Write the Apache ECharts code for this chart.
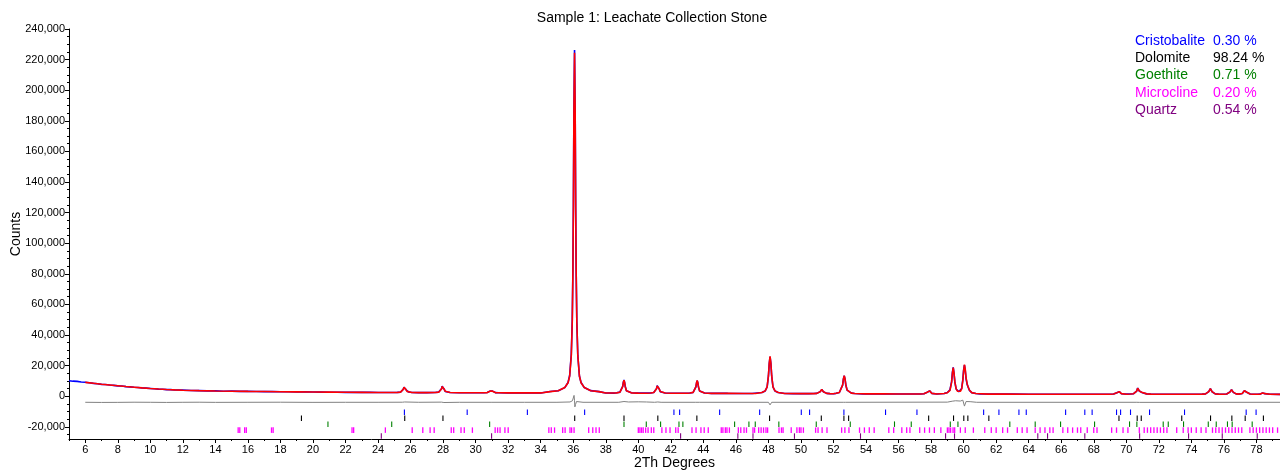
<!DOCTYPE html>
<html>
<head>
<meta charset="utf-8">
<title>Sample 1: Leachate Collection Stone</title>
<script src="https://cdn.jsdelivr.net/npm/echarts@6/dist/echarts.min.js"></script>
<style>
  html, body { margin: 0; padding: 0; background: #ffffff; }
  #chart { width: 1280px; height: 471px; }
</style>
</head>
<body>
<div id="chart"></div>
<script>
// ---- Tick labels ----
const xTickValues = [6, 8, 10, 12, 14, 16, 18, 20, 22, 24, 26, 28, 30, 32, 34, 36, 38, 40, 42, 44, 46, 48, 50, 52, 54, 56, 58, 60, 62, 64, 66, 68, 70, 72, 74, 76, 78];
const xMinorValues = [5, 7, 9, 11, 13, 15, 17, 19, 21, 23, 25, 27, 29, 31, 33, 35, 37, 39, 41, 43, 45, 47, 49, 51, 53, 55, 57, 59, 61, 63, 65, 67, 69, 71, 73, 75, 77, 79];
const yTickValues = [-20000, 0, 20000, 40000, 60000, 80000, 100000, 120000, 140000, 160000, 180000, 200000, 220000, 240000];
const yMinorValues = [-25000, -15000, -10000, -5000, 5000, 10000, 15000, 25000, 30000, 35000, 45000, 50000, 55000, 65000, 70000, 75000, 85000, 90000, 95000, 105000, 110000, 115000, 125000, 130000, 135000, 145000, 150000, 155000, 165000, 170000, 175000, 185000, 190000, 195000, 205000, 210000, 215000, 225000, 230000, 235000];

// ---- Phases (quantification) ----
const phaseNames = ['Cristobalite', 'Dolomite', 'Goethite', 'Microcline', 'Quartz'];
const phaseWeights = [0.30, 98.24, 0.71, 0.20, 0.54];
const phaseColors = ['#0000FF', '#000000', '#008000', '#FF00FF', '#800080'];

// ---- Reflection positions (2Th) for each phase ----
const cristobaliteRefl = [25.62, 29.48, 33.18, 36.70, 42.19, 42.54, 45.00, 47.46, 50.02, 50.53, 52.64, 55.20, 57.13, 61.23, 62.17, 63.40, 63.85, 66.27, 67.45, 67.90, 69.40, 69.65, 70.26, 71.43, 73.58, 77.37, 77.98];
const dolomiteRefl = [19.29, 25.64, 27.99, 36.09, 39.12, 41.20, 43.60, 48.07, 51.25, 52.64, 52.93, 57.85, 59.38, 60.01, 60.26, 61.55, 69.55, 70.67, 70.92, 73.41, 75.18, 76.49, 77.31, 78.43];
const goethiteRefl = [20.92, 24.84, 30.86, 39.12, 40.49, 41.37, 42.50, 42.74, 45.92, 46.80, 47.19, 48.64, 50.94, 53.03, 55.75, 56.78, 59.18, 59.65, 62.84, 64.40, 65.96, 68.05, 70.20, 70.65, 72.27, 72.58, 73.52, 75.04, 75.53, 76.22, 76.51, 77.74];
const microclineRefl = [15.40, 15.50, 15.80, 15.90, 17.45, 17.55, 22.40, 22.50, 24.45, 26.10, 26.75, 27.20, 27.45, 28.50, 28.65, 29.10, 29.30, 29.80,
  31.20, 31.35, 31.50, 31.80, 32.00, 34.50, 34.65, 34.85, 35.35, 35.50, 35.80, 35.90, 36.05, 36.95, 37.20, 37.40, 37.60,
  40.00, 40.10, 40.20, 40.30, 40.45, 40.60, 40.80, 40.95, 41.45, 41.70, 41.95, 42.30, 42.45, 43.30, 43.55, 43.85, 44.05, 44.30,
  45.10, 45.20, 45.35, 45.45, 45.60, 46.15, 46.30, 46.50, 46.65, 47.05, 47.15, 47.40, 47.55, 47.70, 47.85, 47.95, 48.65, 48.80, 48.90,
  49.40, 49.75, 49.90, 50.00, 50.15, 50.90, 51.05, 51.30, 51.60, 52.50, 52.70, 52.95, 53.60, 53.90, 54.20, 54.50, 55.40, 55.70,
  56.20, 56.50, 56.70, 57.30, 57.60, 57.90, 58.20, 58.60, 59.00, 59.10, 59.20, 59.35, 59.45, 59.80, 60.10, 60.60,
  61.30, 61.70, 62.00, 62.40, 62.70, 63.30, 63.60, 63.90, 64.40, 64.70, 65.00, 65.30, 65.50, 66.10, 66.40, 66.70, 67.00, 67.20,
  67.60, 68.00, 68.20, 69.10, 69.40, 69.80, 70.10, 70.80, 71.10, 71.30, 71.50, 71.70, 71.90, 72.10, 72.30, 72.50,
  73.10, 73.50, 73.80, 74.00, 74.30, 74.60, 74.90, 75.30, 75.50, 75.70, 75.90, 76.10, 76.30, 76.50, 76.70, 76.90, 77.10,
  77.60, 77.80, 78.00, 78.20, 78.40, 78.60, 78.80, 79.00, 79.30];
const quartzRefl = [24.20, 30.98, 42.60, 46.12, 47.05, 49.60, 53.66, 58.89, 59.44, 64.56, 65.16, 67.45, 70.82, 73.83, 75.90, 78.05];

// ---- Measured pattern [2Th, counts] ----
const observed = [
  [5.00, 10100], [5.25, 9800], [5.50, 9650], [5.75, 9300], [6.00, 9100], [6.25, 8800], [6.50, 8350], [6.75, 8150],
  [7.00, 7700], [7.25, 7600], [7.50, 7250], [7.75, 7050], [8.00, 6750], [8.25, 6600], [8.50, 6250], [8.75, 6100],
  [9.00, 5800], [9.25, 5700], [9.50, 5350], [9.75, 5250], [10.00, 5050], [10.25, 4800], [10.50, 4600], [10.75, 4500],
  [11.00, 4300], [11.25, 4250], [11.50, 4050], [11.75, 4000], [12.00, 3950], [12.50, 3700], [13.00, 3650], [13.50, 3450],
  [14.00, 3450], [14.50, 3250], [15.00, 3300], [15.50, 3150], [16.00, 3100], [16.50, 3050], [17.00, 2950], [17.50, 3000],
  [18.00, 2850], [18.50, 2900], [19.00, 2750], [19.50, 2800], [20.00, 2700], [20.50, 2650], [21.00, 2600], [21.50, 2600],
  [22.00, 2500], [22.50, 2550], [23.00, 2450], [23.50, 2500], [24.00, 2400], [24.50, 2420], [25.00, 2350],
  [25.18, 2450], [25.38, 2600], [25.48, 3150], [25.55, 4500], [25.59, 5900], [25.63, 6700], [25.67, 5700], [25.71, 4300],
  [25.78, 3100], [25.88, 2700], [26.08, 2400], [26.50, 2330], [27.00, 2320], [27.50, 2350],
  [27.53, 2400], [27.73, 2650], [27.83, 3200], [27.90, 4800], [27.94, 6500], [27.98, 7500], [28.02, 6200], [28.06, 4600],
  [28.13, 3100], [28.23, 2650], [28.43, 2350], [29.00, 2250], [29.50, 2200], [30.00, 2230],
  [30.51, 2220], [30.71, 2350], [30.81, 2600], [30.88, 3300], [30.92, 4000], [30.96, 4300], [31.00, 3900], [31.04, 3300],
  [31.11, 2600], [31.21, 2330], [31.41, 2200], [32.00, 2150], [32.50, 2180], [33.00, 2100], [33.50, 2150], [34.00, 2100],
  [34.58, 3000], [35.08, 3550], [35.48, 5600], [35.68, 8900], [35.78, 13500], [35.88, 27500], [35.94, 50000], [35.98, 84000],
  [36.01, 126000], [36.04, 186000], [36.08, 226200], [36.12, 183000], [36.15, 122000], [36.18, 81000], [36.22, 48500],
  [36.28, 26800], [36.38, 13000], [36.48, 8900], [36.68, 5600], [37.08, 3600], [37.58, 2950], [38.00, 2050], [38.50, 2000],
  [38.67, 2200], [38.87, 2650], [38.97, 3600], [39.04, 6400], [39.08, 9100], [39.12, 10600], [39.16, 8800], [39.20, 6100],
  [39.27, 3500], [39.37, 2600], [39.57, 2200], [40.00, 1980], [40.50, 2000],
  [40.75, 2080], [40.95, 2380], [41.05, 3050], [41.12, 4950], [41.16, 6800], [41.20, 7900], [41.24, 6700], [41.28, 4800],
  [41.35, 2950], [41.45, 2330], [41.65, 2050], [42.00, 1900], [42.50, 1920], [43.00, 1880],
  [43.17, 2050], [43.37, 2450], [43.47, 3350], [43.54, 6000], [43.58, 8600], [43.62, 10100], [43.66, 8600], [43.70, 5900],
  [43.77, 3300], [43.87, 2450], [44.07, 2030], [44.50, 1850], [45.00, 1830], [45.50, 1800], [46.00, 1790], [46.50, 1780], [47.00, 1760],
  [47.60, 2350], [47.80, 3400], [47.92, 6000], [48.00, 13100], [48.05, 21300], [48.10, 25700], [48.15, 21300], [48.20, 13100],
  [48.28, 6000], [48.40, 3400], [48.60, 2350], [49.00, 1700], [49.50, 1680], [50.00, 1650], [50.50, 1640],
  [50.78, 1700], [50.98, 1800], [51.10, 2120], [51.18, 2950], [51.23, 3850], [51.28, 4300], [51.33, 3800], [51.38, 2900],
  [51.46, 2120], [51.58, 1800], [51.78, 1680], [52.00, 1600],
  [52.16, 1850], [52.36, 2400], [52.48, 3700], [52.56, 7250], [52.61, 11300], [52.66, 13300], [52.71, 11100], [52.76, 7100],
  [52.84, 3900], [52.93, 2900], [53.10, 2000], [53.30, 1700], [53.80, 1520], [54.50, 1480], [55.00, 1470], [55.50, 1460],
  [56.00, 1440], [56.50, 1420], [57.00, 1410],
  [57.36, 1460], [57.56, 1580], [57.68, 1850], [57.76, 2600], [57.81, 3450], [57.86, 3900], [57.91, 3450], [57.96, 2600],
  [58.04, 1850], [58.16, 1580], [58.36, 1460],
  [58.80, 1750], [59.00, 2400], [59.16, 4100], [59.26, 9500], [59.31, 15500], [59.36, 18800], [59.41, 14800], [59.46, 9200],
  [59.54, 4700], [59.62, 3400], [59.70, 2900], [59.80, 3300], [59.88, 5000], [59.95, 10800], [60.00, 17200], [60.05, 20300],
  [60.10, 16800], [60.15, 11400], [60.22, 7600], [60.28, 5800], [60.36, 3800], [60.50, 2300], [60.75, 1700],
  [61.00, 1400], [61.50, 1400], [62.00, 1330], [63.00, 1310], [64.00, 1300], [65.00, 1280], [66.00, 1270], [67.00, 1260],
  [68.00, 1260], [68.70, 1250],
  [69.02, 1300], [69.22, 1420], [69.34, 1650], [69.42, 2300], [69.47, 3000], [69.52, 3400], [69.57, 2950], [69.62, 2200],
  [69.70, 1600], [69.82, 1400], [70.02, 1320],
  [70.25, 1400], [70.45, 1620], [70.57, 2000], [70.64, 3350], [70.67, 4400], [70.70, 5300], [70.75, 4450], [70.80, 3350],
  [70.88, 2700], [70.95, 2450], [71.05, 1900], [71.25, 1500], [71.50, 1330], [72.00, 1270], [73.00, 1240],
  [73.30, 1260], [73.41, 1580], [73.52, 1270], [74.20, 1230],
  [74.67, 1320], [74.87, 1480], [74.99, 1900], [75.07, 3000], [75.12, 4300], [75.17, 4950], [75.22, 4200], [75.27, 2900],
  [75.35, 1880], [75.47, 1470], [75.67, 1320], [75.97, 1290],
  [76.17, 1420], [76.29, 1760], [76.37, 2700], [76.42, 3700], [76.47, 4250], [76.52, 3600], [76.57, 2600], [76.65, 1800],
  [76.75, 1500], [76.90, 1350], [77.01, 1450], [77.13, 1730], [77.21, 2620], [77.26, 3520], [77.31, 4050], [77.36, 3480],
  [77.41, 2580], [77.49, 1720], [77.61, 1420], [77.81, 1290],
  [78.05, 1250], [78.23, 1350], [78.33, 1660], [78.38, 2120], [78.43, 2530], [78.48, 2080], [78.53, 1640], [78.63, 1350],
  [78.83, 1250], [79.45, 1200]
];

// ---- Calculated (refined) pattern [2Th, counts] ----
const calculated = [
  [6.0, 9000], [6.5, 8400], [7.0, 7800], [7.5, 7300], [8.0, 6800], [8.5, 6300], [9.0, 5850], [9.5, 5400], [10.0, 5000],
  [10.5, 4650], [11.0, 4350], [11.5, 4100], [12.0, 3900], [13.0, 3600], [14.0, 3400], [15.0, 3250], [16.0, 3100],
  [17.0, 3000], [18.0, 2900], [19.0, 2800], [20.0, 2700], [21.0, 2620], [22.0, 2550], [23.0, 2480], [24.0, 2420], [25.0, 2380],
  [25.18, 2440], [25.38, 2650], [25.48, 3110], [25.55, 4435], [25.59, 5760], [25.63, 6510], [25.67, 5760], [25.71, 4435],
  [25.78, 3110], [25.88, 2650], [26.08, 2440], [26.5, 2330], [27.0, 2300],
  [27.53, 2380], [27.73, 2620], [27.83, 3160], [27.90, 4730], [27.94, 6300], [27.98, 7180], [28.02, 6300], [28.06, 4730],
  [28.13, 3160], [28.23, 2620], [28.43, 2380], [29.0, 2240], [30.0, 2210],
  [30.51, 2230], [30.71, 2340], [30.81, 2580], [30.88, 3265], [30.92, 3950], [30.96, 4340], [31.00, 3950], [31.04, 3265],
  [31.11, 2580], [31.21, 2340], [31.41, 2230], [32.0, 2160], [33.0, 2140], [34.0, 2120],
  [34.58, 2980], [35.08, 3580], [35.48, 5680], [35.68, 8780], [35.78, 13180], [35.88, 26580], [35.94, 48780], [35.98, 82080],
  [36.01, 124380], [36.04, 184480], [36.08, 224480], [36.12, 184480], [36.15, 124380], [36.18, 82080], [36.22, 48780],
  [36.28, 26580], [36.38, 13180], [36.48, 8780], [36.68, 5680], [37.08, 3580], [37.58, 2980], [38.0, 2020],
  [38.67, 2170], [38.87, 2590], [38.97, 3510], [39.04, 6200], [39.08, 8890], [39.12, 10400], [39.16, 8890], [39.20, 6200],
  [39.27, 3510], [39.37, 2590], [39.57, 2170], [40.0, 1960], [40.5, 1950],
  [40.75, 2060], [40.95, 2350], [41.05, 2990], [41.12, 4865], [41.16, 6735], [41.20, 7790], [41.24, 6735], [41.28, 4865],
  [41.35, 2990], [41.45, 2350], [41.65, 2060], [42.0, 1900], [43.0, 1880],
  [43.17, 2050], [43.37, 2470], [43.47, 3390], [43.54, 6080], [43.58, 8770], [43.62, 10280], [43.66, 8770], [43.70, 6080],
  [43.77, 3390], [43.87, 2470], [44.07, 2050], [44.5, 1850], [45.5, 1820], [46.5, 1790], [47.2, 1770],
  [47.60, 2355], [47.80, 3440], [47.92, 6110], [48.00, 13370], [48.05, 21590], [48.10, 25950], [48.15, 21590], [48.20, 13370],
  [48.28, 6110], [48.40, 3440], [48.60, 2355], [49.0, 1720], [50.0, 1660], [50.5, 1640],
  [50.78, 1690], [50.98, 1810], [51.10, 2110], [51.18, 2920], [51.23, 3830], [51.28, 4320], [51.33, 3830], [51.38, 2920],
  [51.46, 2110], [51.58, 1810], [51.78, 1690], [52.0, 1580],
  [52.16, 1850], [52.36, 2380], [52.48, 3675], [52.56, 7200], [52.61, 11195], [52.66, 13310], [52.71, 11195], [52.76, 7200],
  [52.84, 3900], [52.93, 2900], [53.10, 2000], [53.30, 1700], [54.0, 1500], [55.0, 1470], [56.0, 1440], [57.0, 1410],
  [57.36, 1460], [57.56, 1580], [57.68, 1850], [57.76, 2600], [57.81, 3450], [57.86, 3900], [57.91, 3450], [57.96, 2600],
  [58.04, 1850], [58.16, 1580], [58.36, 1460],
  [58.80, 1700], [59.00, 2300], [59.16, 3800], [59.26, 9000], [59.31, 15000], [59.36, 18660], [59.41, 15000], [59.46, 9500],
  [59.54, 4800], [59.62, 3300], [59.70, 2800], [59.80, 3200], [59.88, 4800], [59.95, 10200], [60.00, 16500], [60.05, 20560],
  [60.10, 17500], [60.15, 12000], [60.22, 7800], [60.28, 6000], [60.36, 3900], [60.50, 2300], [60.75, 1700],
  [61.5, 1360], [62.5, 1320], [64.0, 1300], [66.0, 1280], [68.0, 1260], [68.7, 1255],
  [69.02, 1300], [69.22, 1400], [69.34, 1630], [69.42, 2250], [69.47, 2970], [69.52, 3350], [69.57, 2970], [69.62, 2250],
  [69.70, 1630], [69.82, 1400], [70.02, 1300],
  [70.25, 1380], [70.45, 1600], [70.57, 1990], [70.64, 3300], [70.67, 4300], [70.70, 5250], [70.75, 4500], [70.80, 3400],
  [70.88, 2700], [70.95, 2500], [71.05, 1900], [71.25, 1500], [71.50, 1330], [72.0, 1260], [73.0, 1240],
  [73.30, 1260], [73.41, 1550], [73.52, 1270], [74.2, 1230],
  [74.67, 1320], [74.87, 1480], [74.99, 1890], [75.07, 2950], [75.12, 4250], [75.17, 4920], [75.22, 4250], [75.27, 2950],
  [75.35, 1890], [75.47, 1480], [75.67, 1320], [75.97, 1290],
  [76.17, 1420], [76.29, 1750], [76.37, 2650], [76.42, 3650], [76.47, 4210], [76.52, 3650], [76.57, 2650], [76.65, 1800],
  [76.75, 1500], [76.90, 1350], [77.01, 1450], [77.13, 1720], [77.21, 2600], [77.26, 3500], [77.31, 4010], [77.36, 3500],
  [77.41, 2600], [77.49, 1720], [77.61, 1420], [77.81, 1290],
  [78.05, 1250], [78.23, 1350], [78.33, 1650], [78.38, 2100], [78.43, 2500], [78.48, 2100], [78.53, 1650], [78.63, 1350],
  [78.83, 1250], [79.45, 1200]
];

// ---- Difference curve (observed - calculated, shifted below zero) ----
const difference = [
  [6.0, -4000], [7.0, -4100], [8.0, -4050], [9.0, -3950], [10.0, -4000], [11.0, -4100], [12.0, -4000], [13.0, -3950],
  [14.0, -4050], [16.0, -4000], [18.0, -3950], [20.0, -4050], [22.0, -4000], [24.0, -4000], [25.5, -3950], [25.63, -3800],
  [25.75, -4150], [26.5, -4000], [27.9, -3900], [27.98, -3600], [28.05, -4150], [29.0, -4000], [31.0, -4000], [33.0, -4000],
  [35.0, -4000], [35.8, -3800], [35.95, -3000], [36.02, -2000], [36.05, 500], [36.08, -3000], [36.10, -7000], [36.14, -5500],
  [36.20, -3500], [36.30, -4300], [36.60, -4000], [38.8, -4000], [39.12, -3500], [39.4, -3800], [40.0, -3700], [40.5, -3800],
  [41.0, -4000], [41.2, -3800], [41.4, -4000], [43.5, -4000], [43.62, -5200], [43.75, -4000], [48.0, -4000], [48.1, -5700],
  [48.2, -4000], [52.6, -4000], [52.66, -3400], [52.75, -4000], [59.0, -3900], [59.3, -3300], [59.5, -3000], [59.8, -3200],
  [59.95, -2600], [60.05, -6500], [60.15, -3500], [60.4, -3600], [60.8, -4000], [70.65, -4000], [70.7, -3700], [70.8, -4050],
  [79.45, -4000]
];

// ---- Layout constants ----
const X_MIN = 5, X_MAX = 79.45;
const Y_MIN = -28000, Y_MAX = 240000;
const ROW_LEVELS = [-10500, -14400, -18300, -22200, -26100]; // centre of each phase's tick row
const ROW_HALF = 1800;
const FONT = '"Liberation Sans", Arial, sans-serif';

const chart = echarts.init(document.getElementById('chart'), null, { renderer: 'canvas' });

function reflectionSeries(positions, phaseIdx) {
  const level = ROW_LEVELS[phaseIdx];
  const color = phaseColors[phaseIdx];
  return {
    type: 'custom',
    name: phaseNames[phaseIdx],
    xAxisIndex: 0,
    yAxisIndex: 0,
    data: positions.map(v => [v, level]),
    encode: { x: 0, y: 1 },
    silent: true,
    z: 4,
    renderItem: function (params, api) {
      const x = api.value(0);
      const y = api.value(1);
      const top = api.coord([x, y + ROW_HALF]);
      const bot = api.coord([x, y - ROW_HALF]);
      return {
        type: 'line',
        shape: { x1: top[0], y1: top[1], x2: bot[0], y2: bot[1] },
        style: { stroke: color, lineWidth: phaseIdx === 3 ? 1.3 : 1.1 }
      };
    }
  };
}

const legendGraphics = [];
phaseNames.forEach((name, i) => {
  const y = 42 + i * 17.3;
  legendGraphics.push({
    type: 'text', left: 1135, top: y - 8,
    style: { text: name, fill: phaseColors[i], font: '14px ' + FONT }
  });
  legendGraphics.push({
    type: 'text', left: 1213, top: y - 8,
    style: { text: phaseWeights[i].toFixed(2) + ' %', fill: phaseColors[i], font: '14px ' + FONT }
  });
});

const axisTextStyle = { color: '#000', fontSize: 11, fontFamily: FONT };

const option = {
  backgroundColor: '#ffffff',
  animation: false,
  title: {
    text: 'Sample 1: Leachate Collection Stone',
    left: 647, top: 6, textAlign: 'center',
    textStyle: { color: '#000', fontSize: 14, fontWeight: 'normal', fontFamily: FONT }
  },
  grid: { left: 69, right: 0, top: 29, bottom: 32, containLabel: false, outerBoundsMode: 'none' },
  graphic: legendGraphics,
  xAxis: [
    {
      type: 'value', min: X_MIN, max: X_MAX,
      name: '2Th Degrees', nameLocation: 'middle', nameGap: 17, nameMoveOverlap: false,
      nameTextStyle: { color: '#000', fontSize: 14, fontFamily: FONT },
      axisLine: { show: true, onZero: false, lineStyle: { color: '#000', width: 1 } },
      axisTick: { show: true, length: 4, customValues: xTickValues, lineStyle: { color: '#000' } },
      axisLabel: { show: true, customValues: xTickValues, margin: 5, ...axisTextStyle },
      splitLine: { show: false }
    },
    {
      type: 'value', min: X_MIN, max: X_MAX, position: 'bottom',
      axisLine: { show: false, onZero: false },
      axisTick: { show: true, length: 2, customValues: xMinorValues, lineStyle: { color: '#000' } },
      axisLabel: { show: false },
      splitLine: { show: false }
    }
  ],
  yAxis: [
    {
      type: 'value', min: Y_MIN, max: Y_MAX,
      name: 'Counts', nameLocation: 'middle', nameGap: 46, nameRotate: 90, nameMoveOverlap: false,
      nameTextStyle: { color: '#000', fontSize: 14, fontFamily: FONT },
      axisLine: { show: true, onZero: false, lineStyle: { color: '#000', width: 1 } },
      axisTick: { show: true, length: 4, customValues: yTickValues, lineStyle: { color: '#000' } },
      axisLabel: {
        show: true, customValues: yTickValues, margin: 4, ...axisTextStyle,
        formatter: v => v.toLocaleString('en-US')
      },
      splitLine: { show: false }
    },
    {
      type: 'value', min: Y_MIN, max: Y_MAX, position: 'left',
      axisLine: { show: false, onZero: false },
      axisTick: { show: true, length: 2, customValues: yMinorValues, lineStyle: { color: '#000' } },
      axisLabel: { show: false },
      splitLine: { show: false }
    }
  ],
  series: [
    {
      type: 'line', name: 'Difference', data: difference, symbol: 'none', z: 1,
      lineStyle: { color: '#808080', width: 1 }
    },
    {
      type: 'line', name: 'Observed', data: observed, symbol: 'none', z: 2,
      lineStyle: { color: '#0000FF', width: 1.6 }
    },
    {
      type: 'line', name: 'Calculated', data: calculated, symbol: 'none', z: 3,
      lineStyle: { color: '#FF0000', width: 1.6 }
    },
    reflectionSeries(cristobaliteRefl, 0),
    reflectionSeries(dolomiteRefl, 1),
    reflectionSeries(goethiteRefl, 2),
    reflectionSeries(microclineRefl, 3),
    reflectionSeries(quartzRefl, 4)
  ]
};

chart.setOption(option);
</script>
</body>
</html>
